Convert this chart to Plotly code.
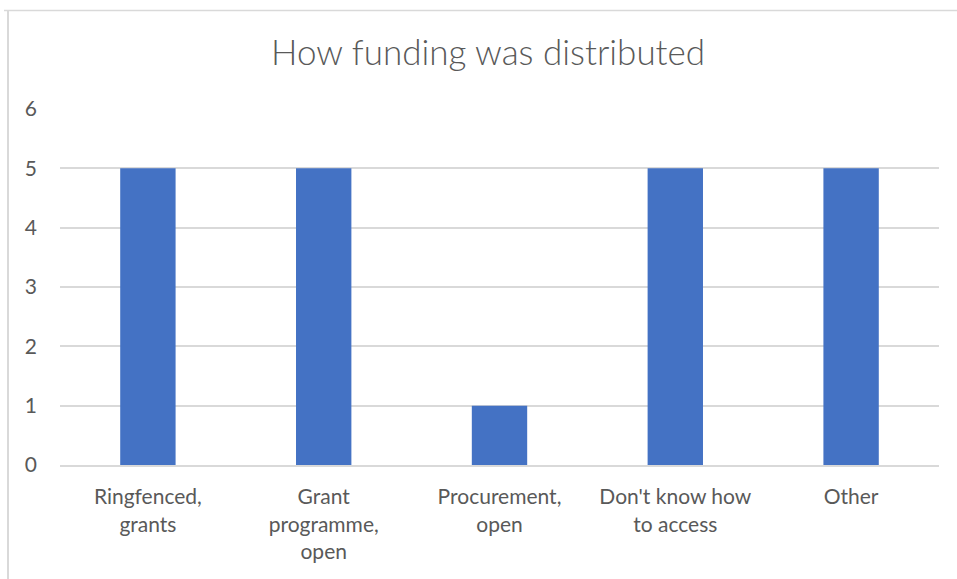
import plotly.graph_objects as go

categories = ["Ringfenced,<br>grants", "Grant<br>programme,<br>open", "Procurement,<br>open",
              "Don't know how<br>to access", "Other"]
values = [5, 5, 1, 5, 5]
tick_vals = [0, 1, 2, 3, 4, 5, 6]
title_text = "How funding was distributed"

W, H = 957, 579
L, R, T, B = 60, 18, 109, 114
pw = W - L - R
ph = H - T - B

fig = go.Figure(go.Bar(x=categories, y=values, marker=dict(color="#4472C4", line=dict(width=0)),
                       width=0.315))

def px2paper_x(px):
    return (px - L) / pw

def py2paper_y(py):
    return (H - B - py) / ph

fig.update_layout(
    width=W, height=H,
    margin=dict(l=L, r=R, t=T, b=B, autoexpand=False),
    paper_bgcolor="white", plot_bgcolor="white",
    font=dict(family="Lato, Carlito, Calibri, sans-serif", color="#595959", size=21),
    title=dict(text=title_text, x=0.51, xanchor="center", y=1 - 53 / H, yanchor="middle",
               font=dict(size=35, color="#595959", weight=300)),
    showlegend=False,
    bargap=0.685,
    xaxis=dict(showgrid=False, showline=True, linecolor="#D9D9D9", linewidth=2, ticks="",
               tickfont=dict(size=21), ticklabelstandoff=12),
    yaxis=dict(range=[0, 6], tickvals=tick_vals, showgrid=True, gridcolor="#D9D9D9", gridwidth=1.5,
               zeroline=False, showline=False, ticks="", tickfont=dict(size=21),
               ticklabelstandoff=22),
    shapes=[
        dict(type="line", xref="paper", yref="paper", x0=px2paper_x(8), x1=px2paper_x(8),
             y0=py2paper_y(10), y1=py2paper_y(600), line=dict(color="#D9D9D9", width=2)),
        dict(type="line", xref="paper", yref="paper", x0=px2paper_x(4), x1=px2paper_x(960),
             y0=py2paper_y(10.5), y1=py2paper_y(10.5), line=dict(color="#D9D9D9", width=1.5)),
    ],
)

fig.write_html("out.html", config={"displayModeBar": False},
               post_script="document.body.style.margin='0';document.body.style.padding='0';")
